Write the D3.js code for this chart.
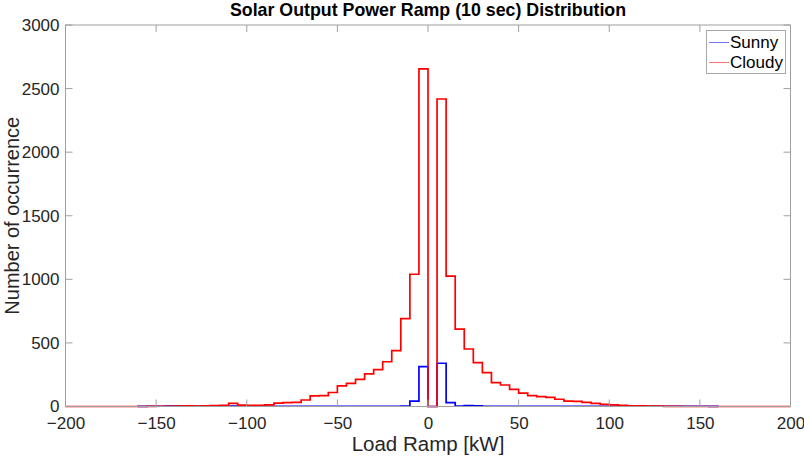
<!DOCTYPE html>
<html><head><meta charset="utf-8">
<script src="https://cdn.jsdelivr.net/npm/d3@7/dist/d3.min.js"></script>
<style>body{margin:0;background:#fff;} text{font-family:Arial,"Liberation Sans",sans-serif;}</style>
</head><body><svg id="c" width="804" height="462"></svg>
<script>
const binWidth = 5;
const binStarts = d3.range(-200, 200, 5);
// Cloudy counts per 5 kW bin, from -200 to 195
const cloudy = [
  0,0,0,0,0,0,0,0,0,1,      // -200 .. -155
  2,2,3,5,4,6,8,10,25,11,   // -150 .. -105
  10,10,12,26,30,33,51,83,85,110, // -100 .. -55
  162,182,214,256,290,352,439,691,1040,2655, // -50 .. -5
  0,2418,1026,609,452,345,266,187,169,135,   // 0 .. 45
  105,85,77,72,57,43,40,33,25,17,            // 50 .. 95
  12,10,6,5,4,3,1,1,0,0,                     // 100 .. 145
  0,0,0,0,0,0,0,0,0,0                        // 150 .. 195
];
// Sunny counts (null = outside its bin range)
const sunny = [
  null,null,null,null,null,null,null,null,1,2,  // -200 .. -155
  2,3,3,2,2,2,2,2,3,2,      // -150 .. -105
  2,2,2,2,2,2,2,2,2,2,      // -100 .. -55
  2,2,2,2,2,2,2,3,43,313,   // -50 .. -5
  0,340,30,4,8,5,2,2,2,2,   // 0 .. 45
  2,2,2,2,2,2,2,2,2,2,      // 50 .. 95
  2,2,2,2,2,2,2,2,2,2,      // 100 .. 145
  2,1,null,null,null,null,null,null,null,null // 150 .. 195
];
const xTicks = [-200,-150,-100,-50,0,50,100,150,200];
const yTicks = [0,500,1000,1500,2000,2500,3000];
const seriesNames = ["Sunny","Cloudy"];
const seriesColors = ["#0000ff","#ff0000"];

const svg = d3.select("#c");
const L = 65.5, R = 790.5, T = 25, B = 406.5;
const x = d3.scaleLinear().domain([-200,200]).range([L,R]);
const y = d3.scaleLinear().domain([0,3000]).range([B,T]);
const axisColor = "#a0a0a0", textColor = "#262626";

function stairs(vals){
  const pts = [];
  binStarts.forEach((s,i)=>{ if(vals[i]!==null) pts.push([s, vals[i]]); });
  if(!pts.length) return "";
  const last = pts[pts.length-1];
  const full = [[pts[0][0],0], ...pts, [last[0]+binWidth,last[1]], [last[0]+binWidth,0]];
  let d = "";
  full.forEach((p,i)=>{
    if(i===0){ d += `M${x(p[0])},${y(p[1])}`; return; }
    const prev = full[i-1];
    if(p[0]!==prev[0]) d += `H${x(p[0])}`;
    d += `V${y(p[1])}`;
  });
  return d;
}

// series
const g = svg.append("g");
[sunny, cloudy].forEach((vals,k)=>{
  g.append("path").attr("d", stairs(vals)).attr("fill","none")
   .attr("stroke", seriesColors[k]).attr("stroke-width",1.7).attr("stroke-linejoin","miter");
});

// axes box
const ax = svg.append("g");
const xb = ax.append("g").attr("transform",`translate(0,${B})`)
  .call(d3.axisBottom(x).tickValues(xTicks).tickSize(0).tickPadding(10).tickFormat(d3.format("d")));
const yl = ax.append("g").attr("transform",`translate(${L},0)`)
  .call(d3.axisLeft(y).tickValues(yTicks).tickSize(0).tickPadding(6).tickFormat(d3.format("d")));
[xb,yl].forEach(a=>{
  a.select(".domain").remove();
  a.selectAll("text").attr("fill",textColor).style("font-size","17px").style("font-family","Arial, 'Liberation Sans', sans-serif");
});
xb.selectAll("text").attr("dy","0.72em");
const tl = 7;
xTicks.forEach(v=>{
  ax.append("line").attr("x1",x(v)).attr("x2",x(v)).attr("y1",B).attr("y2",B-tl).attr("stroke",axisColor);
  ax.append("line").attr("x1",x(v)).attr("x2",x(v)).attr("y1",T).attr("y2",T+tl).attr("stroke",axisColor);
});
yTicks.forEach(v=>{
  ax.append("line").attr("x1",L).attr("x2",L+tl).attr("y1",y(v)).attr("y2",y(v)).attr("stroke",axisColor);
  ax.append("line").attr("x1",R).attr("x2",R-tl).attr("y1",y(v)).attr("y2",y(v)).attr("stroke",axisColor);
});
ax.append("rect").attr("x",L).attr("y",T).attr("width",R-L).attr("height",B-T)
  .attr("fill","none").attr("stroke",axisColor);

// title and labels
svg.append("text").attr("x",(L+R)/2).attr("y",16).attr("text-anchor","middle")
  .attr("font-weight","bold").attr("font-size","17.8px").attr("fill","#000")
  .text("Solar Output Power Ramp (10 sec) Distribution");
svg.append("text").attr("x",(L+R)/2).attr("y",451).attr("text-anchor","middle")
  .attr("font-size","20.5px").attr("fill",textColor).text("Load Ramp [kW]");
svg.append("text").attr("transform",`translate(19,${(T+B)/2}) rotate(-90)`).attr("text-anchor","middle")
  .attr("font-size","20px").attr("fill",textColor).text("Number of occurrence");

// legend
const lg = svg.append("g");
lg.append("rect").attr("x",706.5).attr("y",30.5).attr("width",79).attr("height",43)
  .attr("fill","#fff").attr("stroke","#a8a8a8");
seriesNames.forEach((n,i)=>{
  const yy = 42.5 + i*20;
  lg.append("line").attr("x1",709).attr("x2",729).attr("y1",yy).attr("y2",yy)
    .attr("stroke",seriesColors[i]).attr("stroke-opacity",0.55).attr("stroke-width",1);
  lg.append("text").attr("x",730).attr("y",yy).attr("dy","0.35em").attr("font-size","17px")
    .attr("fill","#000").text(n);
});
</script></body></html>
